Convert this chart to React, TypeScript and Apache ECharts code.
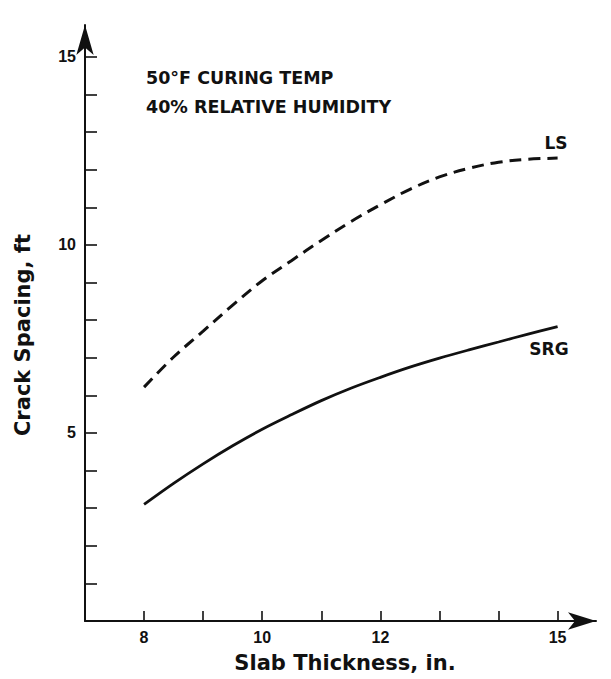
import React, { useEffect, useRef } from "react";
import * as echarts from "echarts";

// Slab thickness, in.
const thickness = [8, 8.5, 9, 9.5, 10, 10.5, 11, 11.5, 12, 12.5, 13, 13.5, 14, 14.5, 15];
// Crack spacing, ft — LS (dashed)
const lsSpacing = [6.22, 7.02, 7.71, 8.4, 9.05, 9.59, 10.12, 10.62, 11.07, 11.48, 11.81, 12.04, 12.2, 12.28, 12.31];
// Crack spacing, ft — SRG (solid)
const srgSpacing = [3.1, 3.66, 4.18, 4.66, 5.1, 5.49, 5.86, 6.19, 6.48, 6.75, 6.99, 7.21, 7.42, 7.63, 7.83];

const xTicks = [8, 9, 10, 11, 12, 13, 14, 15];
const xTickLabels = [8, 10, 12, 15];
const yTicks = [1, 2, 3, 4, 5, 6, 7, 8, 9, 10, 11, 12, 13, 14, 15];
const yTickLabels = [5, 10, 15];

const notes = ["50°F CURING TEMP", "40% RELATIVE HUMIDITY"];
const xTitle = "Slab Thickness, in.";
const yTitle = "Crack Spacing, ft";

export default function App() {
  const ref = useRef<HTMLDivElement>(null);

  useEffect(() => {
    if (!ref.current) return;
    const chart = echarts.init(ref.current, undefined, { renderer: "svg" });
    const ink = "#111";
    const boldFont = "DejaVu Sans";
    const near = (v: number, list: number[]) => list.some((t) => Math.abs(t - v) < 1e-6);
    chart.setOption({
      animation: false,
      backgroundColor: "#fff",
      grid: { left: 85, right: 15, top: 25, bottom: 58, containLabel: false },
      xAxis: {
        type: "value",
        min: 7,
        max: 15.65,
        interval: 1,
        splitLine: { show: false },
        axisLine: {
          show: true,
          lineStyle: { color: ink, width: 2 },
          symbol: ["none", "arrow"],
          symbolSize: [13, 28],
        },
        axisTick: {
          show: true,
          inside: true,
          length: 10,
          customValues: xTicks,
          lineStyle: { color: ink, width: 1.6 },
        },
        axisLabel: {
          margin: 8,
          color: ink,
          fontFamily: "Liberation Sans",
          fontWeight: "bold",
          fontSize: 16,
          formatter: (v: number) => (near(v, xTickLabels) ? String(Math.round(v)) : ""),
        },
      },
      yAxis: {
        type: "value",
        min: 0,
        max: 15.85,
        interval: 1,
        splitLine: { show: false },
        axisLine: {
          show: true,
          lineStyle: { color: ink, width: 2 },
          symbol: ["none", "arrow"],
          symbolSize: [13, 30],
        },
        axisTick: {
          show: true,
          inside: true,
          length: 12,
          customValues: yTicks,
          lineStyle: { color: ink, width: 1.6 },
        },
        axisLabel: {
          margin: 9,
          color: ink,
          fontFamily: "Liberation Sans",
          fontWeight: "bold",
          fontSize: 16,
          formatter: (v: number) => (near(v, yTickLabels) ? String(Math.round(v)) : ""),
        },
      },
      series: [
        {
          name: "LS",
          type: "line",
          data: thickness.map((t, i) => [t, lsSpacing[i]]),
          smooth: 0.35,
          showSymbol: false,
          lineStyle: { color: ink, width: 3, type: [12, 7] },
        },
        {
          name: "SRG",
          type: "line",
          data: thickness.map((t, i) => [t, srgSpacing[i]]),
          smooth: 0.35,
          showSymbol: false,
          lineStyle: { color: ink, width: 2.8, type: "solid" },
        },
      ],
      graphic: [
        {
          type: "text",
          x: 146,
          y: 78,
          style: {
            text: notes[0],
            fill: ink,
            font: `bold 17.5px "${boldFont}"`,
            textAlign: "left",
            textVerticalAlign: "middle",
          },
        },
        {
          type: "text",
          x: 146,
          y: 107,
          style: {
            text: notes[1],
            fill: ink,
            font: `bold 17.5px "${boldFont}"`,
            textAlign: "left",
            textVerticalAlign: "middle",
          },
        },
        {
          type: "text",
          x: 556,
          y: 143,
          style: {
            text: "LS",
            fill: ink,
            font: `bold 17px "${boldFont}"`,
            textAlign: "center",
            textVerticalAlign: "middle",
          },
        },
        {
          type: "text",
          x: 549,
          y: 349,
          style: {
            text: "SRG",
            fill: ink,
            font: `bold 17px "${boldFont}"`,
            textAlign: "center",
            textVerticalAlign: "middle",
          },
        },
        {
          type: "text",
          x: 345,
          y: 663,
          style: {
            text: xTitle,
            fill: ink,
            font: `bold 21px "${boldFont}"`,
            textAlign: "center",
            textVerticalAlign: "middle",
          },
        },
        {
          type: "text",
          x: 23,
          y: 335,
          rotation: Math.PI / 2,
          style: {
            text: yTitle,
            fill: ink,
            font: `bold 21px "${boldFont}"`,
            textAlign: "center",
            textVerticalAlign: "middle",
          },
        },
      ],
    });
    return () => chart.dispose();
  }, []);

  return (
    <div
      ref={ref}
      style={{ position: "absolute", left: 0, top: 0, width: 611, height: 679 }}
    />
  );
}
